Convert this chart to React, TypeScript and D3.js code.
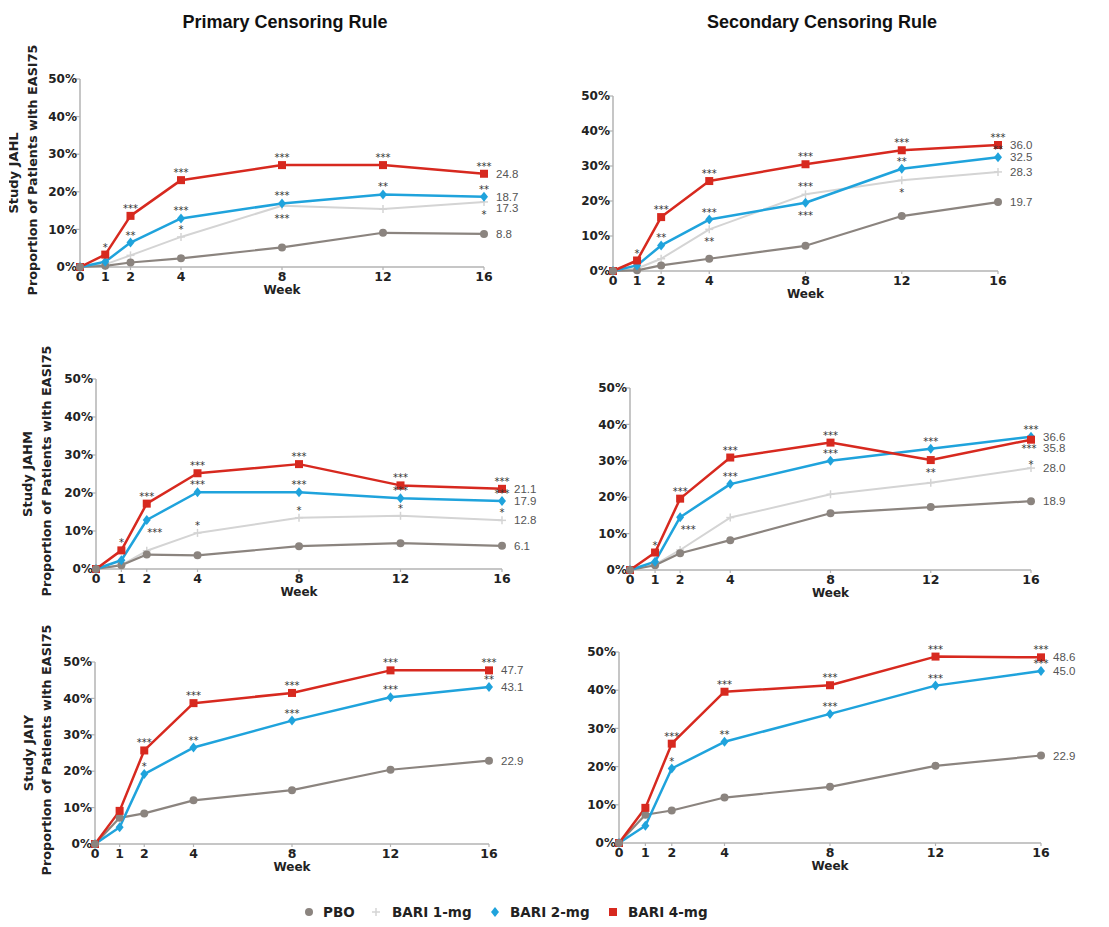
import React from 'react';
import * as d3 from 'd3';

// weeks on the x axis
const weeks = [0, 1, 2, 4, 8, 12, 16];
const pctTicks = [0, 10, 20, 30, 40, 50];

const seriesNames = ['PBO', 'BARI 1-mg', 'BARI 2-mg', 'BARI 4-mg'];

// Study JAHL - primary
const jahlPrimPbo = [0, 0.3, 1.2, 2.3, 5.2, 9.1, 8.8];
const jahlPrimB1 = [0, 0.7, 3.1, 8.0, 16.3, 15.4, 17.3];
const jahlPrimB2 = [0, 1.4, 6.5, 12.9, 16.9, 19.3, 18.7];
const jahlPrimB4 = [0, 3.3, 13.6, 23.1, 27.1, 27.1, 24.8];
// Study JAHL - secondary
const jahlSecPbo = [0, 0.2, 1.6, 3.5, 7.2, 15.7, 19.7];
const jahlSecB1 = [0, 0.7, 3.5, 11.9, 21.9, 25.9, 28.3];
const jahlSecB2 = [0, 1.6, 7.3, 14.7, 19.5, 29.2, 32.5];
const jahlSecB4 = [0, 3.0, 15.4, 25.7, 30.5, 34.5, 36.0];
// Study JAHM - primary
const jahmPrimPbo = [0, 1.0, 3.8, 3.6, 6.0, 6.8, 6.1];
const jahmPrimB1 = [0, 1.0, 4.8, 9.5, 13.5, 14.0, 12.8];
const jahmPrimB2 = [0, 2.3, 12.9, 20.2, 20.2, 18.6, 17.9];
const jahmPrimB4 = [0, 4.9, 17.2, 25.2, 27.6, 22.0, 21.1];
// Study JAHM - secondary
const jahmSecPbo = [0, 1.3, 4.6, 8.2, 15.6, 17.3, 18.9];
const jahmSecB1 = [0, 1.5, 5.5, 14.4, 20.8, 24.0, 28.0];
const jahmSecB2 = [0, 2.3, 14.5, 23.6, 30.0, 33.3, 36.6];
const jahmSecB4 = [0, 4.8, 19.6, 30.9, 35.0, 30.2, 35.8];
// Study JAIY - primary (no 1-mg arm)
const jaiyPrimPbo = [0, 7.2, 8.4, 12.0, 14.8, 20.4, 22.9];
const jaiyPrimB2 = [0, 4.6, 19.2, 26.5, 33.9, 40.3, 43.1];
const jaiyPrimB4 = [0, 9.1, 25.7, 38.7, 41.5, 47.7, 47.7];
// Study JAIY - secondary
const jaiySecPbo = [0, 7.4, 8.5, 11.9, 14.7, 20.2, 22.9];
const jaiySecB2 = [0, 4.5, 19.5, 26.5, 33.8, 41.2, 45.0];
const jaiySecB4 = [0, 9.2, 26.0, 39.6, 41.3, 48.8, 48.6];

// significance marks: [series, week, text, where]
const jahlPrimStars = [
  ['B4', 1, '*', 'a'], ['B4', 2, '***', 'a'], ['B4', 4, '***', 'a'], ['B4', 8, '***', 'a'], ['B4', 12, '***', 'a'], ['B4', 16, '***', 'a'],
  ['B2', 2, '**', 'a'], ['B2', 4, '***', 'a'], ['B2', 8, '***', 'a'], ['B2', 12, '**', 'a'], ['B2', 16, '**', 'a'],
  ['B1', 4, '*', 'a'], ['B1', 8, '***', 'b'], ['B1', 16, '*', 'b'],
];
const jahlSecStars = [
  ['B4', 1, '*', 'a'], ['B4', 2, '***', 'a'], ['B4', 4, '***', 'a'], ['B4', 8, '***', 'a'], ['B4', 12, '***', 'a'], ['B4', 16, '***', 'a'],
  ['B2', 2, '**', 'a'], ['B2', 4, '***', 'a'], ['B2', 8, '***', 'b'], ['B2', 12, '**', 'a'], ['B2', 16, '**', 'a'],
  ['B1', 4, '**', 'b'], ['B1', 8, '***', 'a'], ['B1', 12, '*', 'b'],
];
const jahmPrimStars = [
  ['B4', 1, '*', 'a'], ['B4', 2, '***', 'a'], ['B4', 4, '***', 'a'], ['B4', 8, '***', 'a'], ['B4', 12, '***', 'a'], ['B4', 16, '***', 'a'],
  ['B2', 2, '***', 'r'], ['B2', 4, '***', 'a'], ['B2', 8, '***', 'a'], ['B2', 12, '***', 'a'], ['B2', 16, '***', 'a'],
  ['B1', 4, '*', 'a'], ['B1', 8, '*', 'a'], ['B1', 12, '*', 'a'], ['B1', 16, '*', 'a'],
];
const jahmSecStars = [
  ['B4', 1, '*', 'a'], ['B4', 2, '***', 'a'], ['B4', 4, '***', 'a'], ['B4', 8, '***', 'a'], ['B4', 12, '**', 'b'], ['B4', 16, '***', 'bs'],
  ['B2', 2, '***', 'r'], ['B2', 4, '***', 'a'], ['B2', 8, '***', 'a'], ['B2', 12, '***', 'a'], ['B2', 16, '***', 'a'],
  ['B1', 16, '*', 'as'],
];
const jaiyPrimStars = [
  ['B4', 2, '***', 'a'], ['B4', 4, '***', 'a'], ['B4', 8, '***', 'a'], ['B4', 12, '***', 'a'], ['B4', 16, '***', 'a'],
  ['B2', 2, '*', 'a'], ['B2', 4, '**', 'a'], ['B2', 8, '***', 'a'], ['B2', 12, '***', 'a'], ['B2', 16, '**', 'a'],
];
const jaiySecStars = [
  ['B4', 2, '***', 'a'], ['B4', 4, '***', 'a'], ['B4', 8, '***', 'a'], ['B4', 12, '***', 'a'], ['B4', 16, '***', 'a'],
  ['B2', 2, '*', 'a'], ['B2', 4, '**', 'a'], ['B2', 8, '***', 'a'], ['B2', 12, '***', 'a'], ['B2', 16, '***', 'a'],
];

const colors = { PBO: '#8b847f', B1: '#d4d4d4', B2: '#1fa3dc', B4: '#d7291f' };
const FONT = '"DejaVu Sans", Verdana, sans-serif';

const panels = [
  { x0: 80, x1: 484, y0: 267, y1: 79, study: 'Study JAHL', studyX: 13, propX: 33,
    data: { PBO: jahlPrimPbo, B1: jahlPrimB1, B2: jahlPrimB2, B4: jahlPrimB4 }, stars: jahlPrimStars },
  { x0: 613, x1: 998, y0: 271, y1: 96,
    data: { PBO: jahlSecPbo, B1: jahlSecB1, B2: jahlSecB2, B4: jahlSecB4 }, stars: jahlSecStars },
  { x0: 96, x1: 502, y0: 569, y1: 379, study: 'Study JAHM', studyX: 27, propX: 47,
    data: { PBO: jahmPrimPbo, B1: jahmPrimB1, B2: jahmPrimB2, B4: jahmPrimB4 }, stars: jahmPrimStars },
  { x0: 630, x1: 1031, y0: 570, y1: 388,
    data: { PBO: jahmSecPbo, B1: jahmSecB1, B2: jahmSecB2, B4: jahmSecB4 }, stars: jahmSecStars },
  { x0: 95, x1: 489, y0: 844, y1: 662, study: 'Study JAIY', studyX: 28, propX: 47,
    data: { PBO: jaiyPrimPbo, B2: jaiyPrimB2, B4: jaiyPrimB4 }, stars: jaiyPrimStars },
  { x0: 619, x1: 1041, y0: 843, y1: 652,
    data: { PBO: jaiySecPbo, B2: jaiySecB2, B4: jaiySecB4 }, stars: jaiySecStars },
];

const drawOrder = ['B1', 'PBO', 'B2', 'B4'];

function Marker({ kind, x, y }: { kind: string; x: number; y: number }) {
  if (kind === 'B4') return <rect x={x - 4} y={y - 4} width={8} height={8} fill={colors.B4} />;
  if (kind === 'B2') return <path d={`M${x},${y - 5}L${x + 4},${y}L${x},${y + 5}L${x - 4},${y}Z`} fill={colors.B2} />;
  if (kind === 'PBO') return <circle cx={x} cy={y} r={4} fill={colors.PBO} />;
  return (
    <g stroke={colors.B1} strokeWidth={1.5}>
      <line x1={x - 4} x2={x + 4} y1={y} y2={y} />
      <line x1={x} x2={x} y1={y - 4} y2={y + 4} />
    </g>
  );
}

function Panel({ p }: { p: any }) {
  const x = d3.scaleLinear().domain([0, 16]).range([p.x0, p.x1]);
  const y = d3.scaleLinear().domain([0, 50]).range([p.y0, p.y1]);
  const line = d3.line<number>().x((_, i) => x(weeks[i])).y(d => y(d));
  const keys = drawOrder.filter(k => p.data[k]);

  // end labels, pushed apart so they don't overlap
  const ends = keys.map(k => ({ k, v: p.data[k][6], y: y(p.data[k][6]) })).sort((a, b) => a.y - b.y);
  for (let i = 1; i < ends.length; i++) {
    if (ends[i].y < ends[i - 1].y + 11) ends[i].y = ends[i - 1].y + 11;
  }

  const axisCol = '#b3b3b3';
  const midY = (p.y0 + p.y1) / 2;
  return (
    <g>
      {/* axes */}
      <line x1={p.x0} x2={p.x0} y1={p.y0} y2={y(50)} stroke={axisCol} strokeWidth={1.5} />
      <line x1={p.x0} x2={p.x1} y1={p.y0} y2={p.y0} stroke={axisCol} strokeWidth={1.5} />
      {pctTicks.map(t => (
        <g key={t}>
          <line x1={p.x0 - 4} x2={p.x0} y1={y(t)} y2={y(t)} stroke={axisCol} strokeWidth={1.2} />
          <text x={p.x0 - 3} y={y(t)} dy="0.35em" textAnchor="end" fontFamily={FONT} fontWeight="bold"
            fontSize={12} fill="#222">{t}%</text>
        </g>
      ))}
      {weeks.map(w => (
        <g key={w}>
          <line x1={x(w)} x2={x(w)} y1={p.y0} y2={p.y0 + 3} stroke={axisCol} strokeWidth={1.2} />
          <text x={x(w)} y={p.y0 + 9.5} dy="0.35em" textAnchor="middle" fontFamily={FONT} fontWeight="bold"
            fontSize={12.5} fill="#222">{w}</text>
        </g>
      ))}
      <text x={(p.x0 + p.x1) / 2} y={p.y0 + 23} dy="0.35em" textAnchor="middle" fontFamily={FONT}
        fontWeight="bold" fontSize={12} fill="#222">Week</text>

      {p.study && (
        <g>
          <g clipPath="url(#leftclip)">
            <text transform={`translate(${p.studyX},${midY}) rotate(-90)`} dy="0.35em" textAnchor="middle"
              fontFamily={FONT} fontWeight="bold" fontSize={13} fill="#222">{p.study}</text>
          </g>
          <text transform={`translate(${p.propX},${midY - 3}) rotate(-90)`} dy="0.35em" textAnchor="middle"
            fontFamily={FONT} fontWeight="bold" fontSize={12.8} fill="#222">Proportion of Patients with EASI75</text>
        </g>
      )}

      {/* lines */}
      {keys.map(k => (
        <path key={k} d={line(p.data[k]) || ''} fill="none" stroke={colors[k as keyof typeof colors]}
          strokeWidth={k === 'B1' ? 2 : k === 'PBO' ? 2.2 : 2.5} strokeLinejoin="round" />
      ))}
      {keys.map(k => (
        <g key={k}>
          {p.data[k].map((v: number, i: number) => (
            <Marker key={i} kind={k} x={x(weeks[i])} y={y(v)} />
          ))}
        </g>
      ))}
      <Marker kind="PBO" x={x(0)} y={y(0)} />

      {/* significance */}
      {p.stars.map((s: any, i: number) => {
        const [k, w, txt, where] = s;
        const v = p.data[k][weeks.indexOf(w)];
        let cx = x(w);
        let cy = y(v);
        if (where === 'a') cy -= 10;
        else if (where === 'b') cy += 10;
        else if (where === 'as') cy -= 6;
        else if (where === 'bs') { cy += 6; cx -= 2; }
        else { cx += 8; cy += 10; }
        return (
          <text key={i} x={cx} y={cy + 6} textAnchor="middle" fontFamily={FONT} fontSize={10} fill="#333">{txt}</text>
        );
      })}

      {/* end values */}
      {ends.map(e => (
        <text key={e.k} x={p.x1 + 12} y={e.y} dy="0.35em" fontFamily='"Liberation Sans", Arial, sans-serif'
          fontSize={11.5} fill="#555">{e.v.toFixed(1)}</text>
      ))}
    </g>
  );
}

export default function App() {
  const legendFont = { fontFamily: FONT, fontWeight: 'bold' as const, fontSize: 13.5, fill: '#222' };
  return (
    <div style={{ position: 'absolute', left: 0, top: 0 }}>
      <svg width={1109} height={927} style={{ display: 'block', background: '#fff' }}>
        <defs>
          <clipPath id="leftclip" clipPathUnits="userSpaceOnUse">
            <rect x={9} y={0} width={1100} height={927} />
          </clipPath>
        </defs>
        <text x={285} y={28} textAnchor="middle" fontFamily='"Liberation Sans", Arial, sans-serif' fontWeight="bold"
          fontSize={18} fill="#111">Primary Censoring Rule</text>
        <text x={822} y={28} textAnchor="middle" fontFamily='"Liberation Sans", Arial, sans-serif' fontWeight="bold"
          fontSize={18} fill="#111">Secondary Censoring Rule</text>

        {panels.map((p, i) => <Panel key={i} p={p} />)}

        {/* legend */}
        <g>
          <Marker kind="PBO" x={309} y={912} />
          <text x={323} y={912} dy="0.35em" {...legendFont}>{seriesNames[0]}</text>
          <Marker kind="B1" x={376} y={912} />
          <text x={392} y={912} dy="0.35em" {...legendFont}>{seriesNames[1]}</text>
          <Marker kind="B2" x={495} y={912} />
          <text x={510} y={912} dy="0.35em" {...legendFont}>{seriesNames[2]}</text>
          <Marker kind="B4" x={613} y={912} />
          <text x={628} y={912} dy="0.35em" {...legendFont}>{seriesNames[3]}</text>
        </g>
      </svg>
    </div>
  );
}
